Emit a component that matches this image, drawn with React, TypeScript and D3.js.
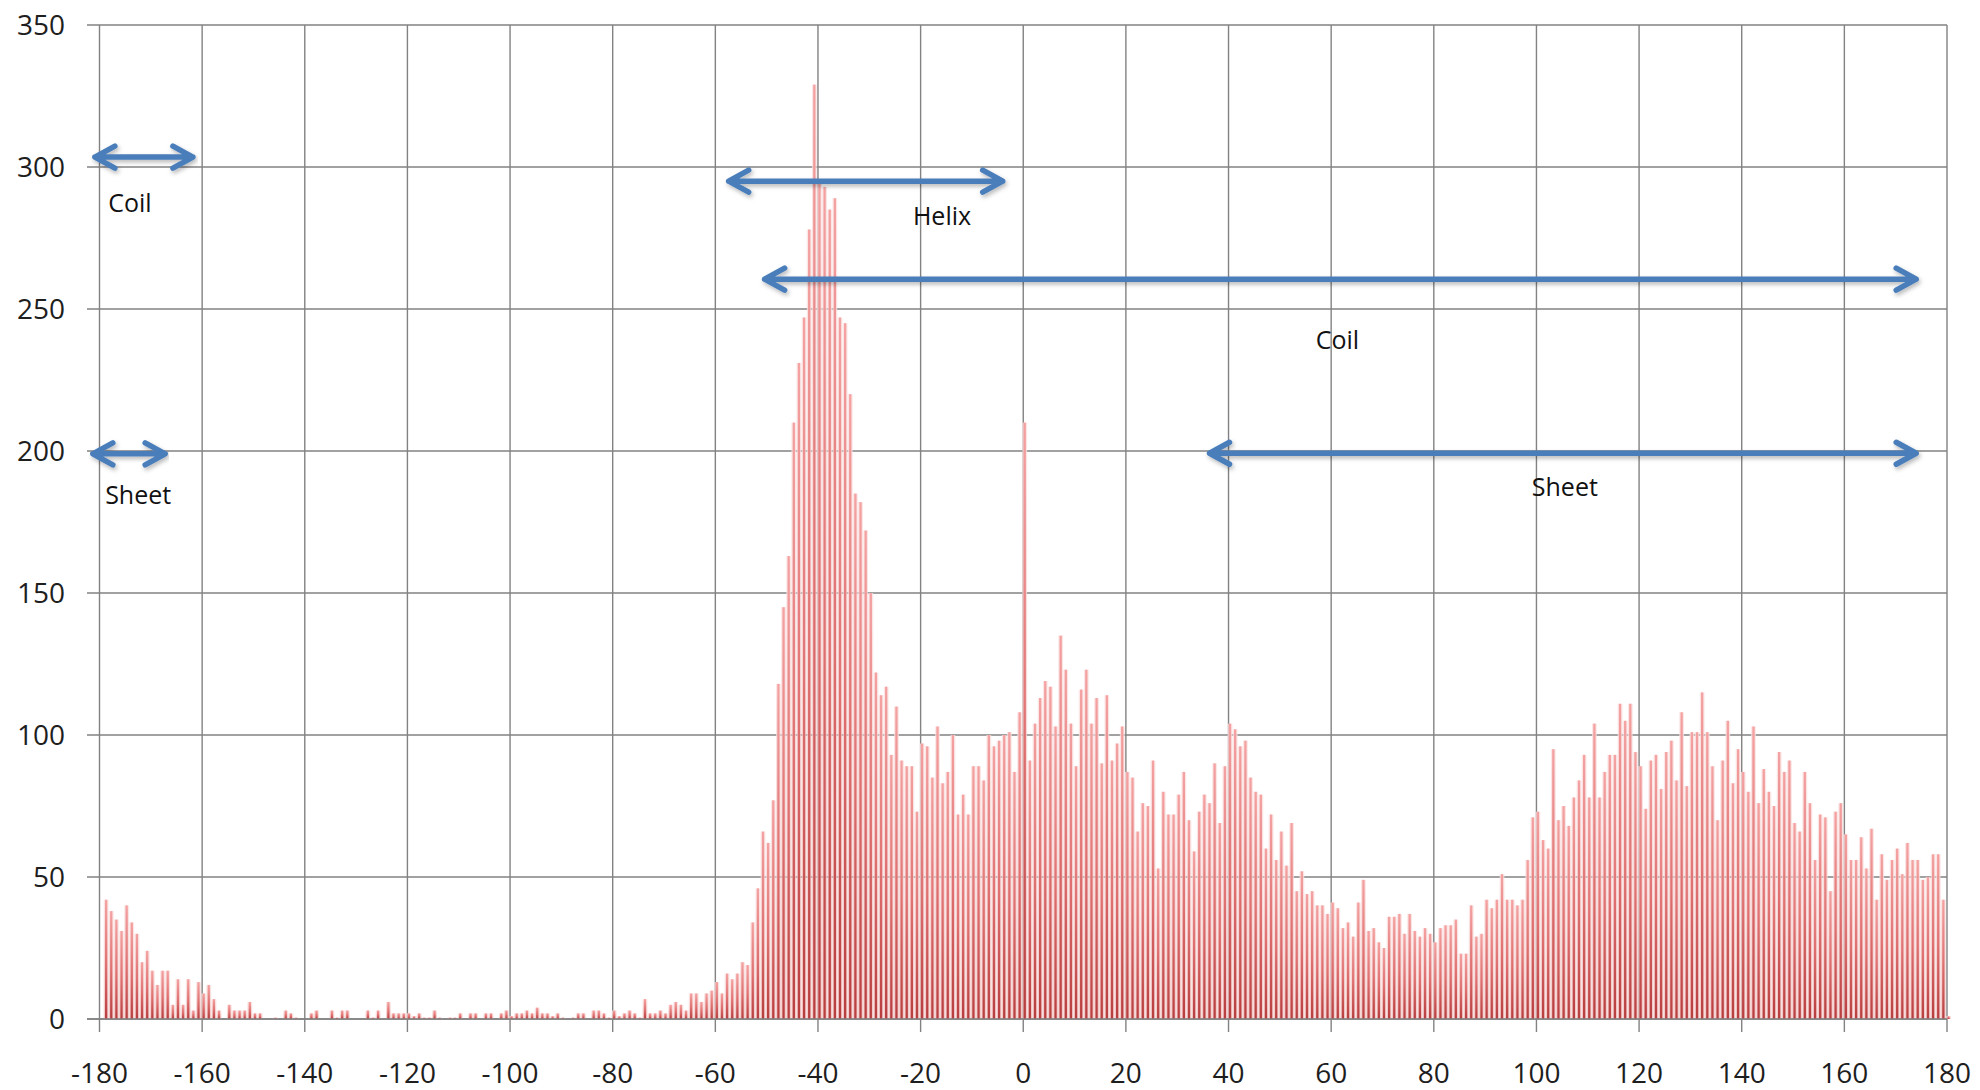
import { scaleLinear } from "d3";

// angle bins, one per degree, the first bin is -179
const firstAngle = -179;

// counts for -179 .. -60
const countsFar = [
  42, 38, 35, 31, 40, 34, 30, 20, 24, 17,
  12, 17, 17, 5, 14, 5, 14, 3, 13, 9,
  12, 7, 3, 0, 5, 3, 3, 3, 6, 2,
  2, 0, 0, 0.5, 0, 3, 2, 0.5, 0, 0,
  2, 3, 0, 0, 3, 0.5, 3, 3, 0, 0,
  0, 3, 0.5, 3, 0, 6, 2, 2, 2, 2,
  1, 2, 0.5, 0.5, 3, 0.5, 0, 0.5, 0.5, 2,
  0, 2, 2, 0, 2, 2, 0, 2, 3, 1,
  2, 2, 3, 2, 4, 2, 2, 1, 2, 0.5,
  0, 0.5, 2, 2, 0, 3, 3, 2, 0.5, 3,
  1, 2, 3, 2, 0.5, 7, 2, 2, 3, 2,
  5, 6, 5, 3, 9, 9, 6, 9, 10, 13,
];

// counts for -59 .. 0
const countsHelix = [
  9, 16, 14, 16, 20, 19, 34, 46, 66, 62,
  77, 118, 145, 163, 210, 231, 247, 278, 329, 294,
  293, 285, 289, 247, 245, 220, 185, 182, 172, 150,
  122, 114, 117, 93, 110, 91, 89, 89, 73, 97,
  96, 85, 103, 83, 87, 100, 72, 79, 72, 89,
  89, 84, 100, 96, 98, 100, 101, 87, 108, 210,
];

// counts for 1 .. 60
const countsMid = [
  91, 104, 113, 119, 117, 103, 135, 123, 104, 89,
  116, 123, 104, 113, 90, 114, 91, 97, 103, 87,
  85, 66, 76, 75, 91, 53, 80, 72, 72, 79,
  87, 70, 59, 73, 79, 76, 90, 69, 89, 104,
  102, 96, 98, 85, 80, 79, 60, 72, 56, 66,
  54, 69, 45, 52, 44, 45, 40, 40, 37, 41,
];

// counts for 61 .. 120
const countsLow = [
  39, 32, 34, 29, 41, 49, 31, 32, 27, 25,
  36, 36, 37, 30, 37, 31, 29, 32, 30, 27,
  32, 33, 33, 35, 23, 23, 40, 29, 30, 42,
  39, 42, 51, 42, 42, 40, 42, 56, 71, 73,
  63, 60, 95, 70, 75, 68, 78, 84, 93, 78,
  104, 78, 87, 93, 93, 111, 105, 111, 94, 89,
];

// counts for 121 .. 180
const countsHigh = [
  74, 91, 93, 81, 94, 98, 84, 108, 82, 101,
  101, 115, 101, 89, 70, 91, 105, 83, 95, 87,
  80, 103, 76, 88, 80, 75, 94, 87, 91, 69,
  66, 87, 76, 56, 72, 71, 45, 73, 76, 65,
  56, 56, 64, 53, 67, 42, 58, 49, 56, 60,
  51, 62, 56, 56, 49, 50, 58, 58, 42, 1,
];

const xTicks = [-180, -160, -140, -120, -100, -80, -60, -40, -20, 0, 20, 40, 60, 80, 100, 120, 140, 160, 180];
const yTicks = [0, 50, 100, 150, 200, 250, 300, 350];

// secondary-structure annotations (angles and counts in data units)
const arrowLabels = ["Coil", "Sheet", "Helix", "Coil", "Sheet"];
const arrowFrom = [-180.9, -181.3, -57.4, -50.4, 36.3];
const arrowTo = [-161.8, -167.2, -4, 174, 174];
const arrowLevel = [303.5, 199, 295, 260.5, 199.2];
const labelAngle = [-178.3, -178.9, -21.5, 57, 99.1];
const labelLevel = [284, 181.5, 279.5, 236, 184];

const counts = [...countsFar, ...countsHelix, ...countsMid, ...countsLow, ...countsHigh];

export default function App() {
  const width = 1980;
  const height = 1090;
  const x = scaleLinear().domain([-180, 180]).range([99.5, 1947]);
  const y = scaleLinear().domain([0, 350]).range([1019, 25]);
  const barShift = 1.5;
  const font = "'Open Sans', 'DejaVu Sans', sans-serif";
  const grid = "#828282";
  const blue = "#4a7ebb";

  return (
    <svg
      width={width}
      height={height}
      viewBox={`0 0 ${width} ${height}`}
      style={{ position: "absolute", left: 0, top: 0, background: "#fff" }}
    >
      <defs>
        <linearGradient id="barCore" x1="0" y1="0" x2="0" y2="1">
          <stop offset="0%" stopColor="#f4a2a2" />
          <stop offset="55%" stopColor="#df7070" />
          <stop offset="100%" stopColor="#b83e3e" />
        </linearGradient>
        <linearGradient id="barHalo" x1="0" y1="0" x2="0" y2="1">
          <stop offset="0%" stopColor="#fbe0e0" />
          <stop offset="100%" stopColor="#f0bcbc" />
        </linearGradient>
        <filter id="arrowShadow" x="-5%" y="-100%" width="110%" height="300%">
          <feDropShadow dx="1.5" dy="2.5" stdDeviation="2" floodColor="#000" floodOpacity="0.28" />
        </filter>
      </defs>

      {yTicks.map((t) => (
        <line key={`h${t}`} x1={87} x2={x(180)} y1={y(t)} y2={y(t)} stroke={grid} strokeWidth={1.4} />
      ))}
      {xTicks.map((t) => (
        <line key={`v${t}`} x1={x(t)} x2={x(t)} y1={y(350)} y2={y(0) + 13} stroke={grid} strokeWidth={1.4} />
      ))}

      {counts.map((c, i) => {
        if (c <= 0) return null;
        const cx = x(firstAngle + i) + barShift;
        const top = y(c);
        const h = y(0) - top;
        return (
          <g key={i}>
            <rect x={cx - 2.4} y={top} width={4.8} height={h} fill="url(#barHalo)" opacity={0.8} />
            <rect x={cx - 1.15} y={top} width={2.3} height={h} fill="url(#barCore)" />
          </g>
        );
      })}

      <line x1={87} x2={x(180)} y1={y(0)} y2={y(0)} stroke={grid} strokeWidth={1.4} />

      {yTicks.map((t) => (
        <text key={`yl${t}`} x={65} y={y(t)} dy="0.35em" textAnchor="end" fontFamily={font} fontSize={28} fill="#1e1e1e">
          {t}
        </text>
      ))}
      {xTicks.map((t) => (
        <text key={`xl${t}`} x={x(t)} y={1083} textAnchor="middle" fontFamily={font} fontSize={28} fill="#1e1e1e">
          {t}
        </text>
      ))}

      {arrowLabels.map((label, i) => {
        const x1 = x(arrowFrom[i]);
        const x2 = x(arrowTo[i]);
        const yy = y(arrowLevel[i]);
        const dx = 20;
        const dy = 11;
        const d =
          `M${x1},${yy}L${x2},${yy}` +
          `M${x1 + dx},${yy - dy}L${x1},${yy}L${x1 + dx},${yy + dy}` +
          `M${x2 - dx},${yy - dy}L${x2},${yy}L${x2 - dx},${yy + dy}`;
        return (
          <g key={`a${i}`}>
            <path
              d={d}
              fill="none"
              stroke={blue}
              strokeWidth={5.5}
              strokeLinecap="round"
              strokeLinejoin="round"
              filter="url(#arrowShadow)"
            />
            <text x={x(labelAngle[i])} y={y(labelLevel[i])} fontFamily={font} fontSize={25} fill="#111">
              {label}
            </text>
          </g>
        );
      })}
    </svg>
  );
}
